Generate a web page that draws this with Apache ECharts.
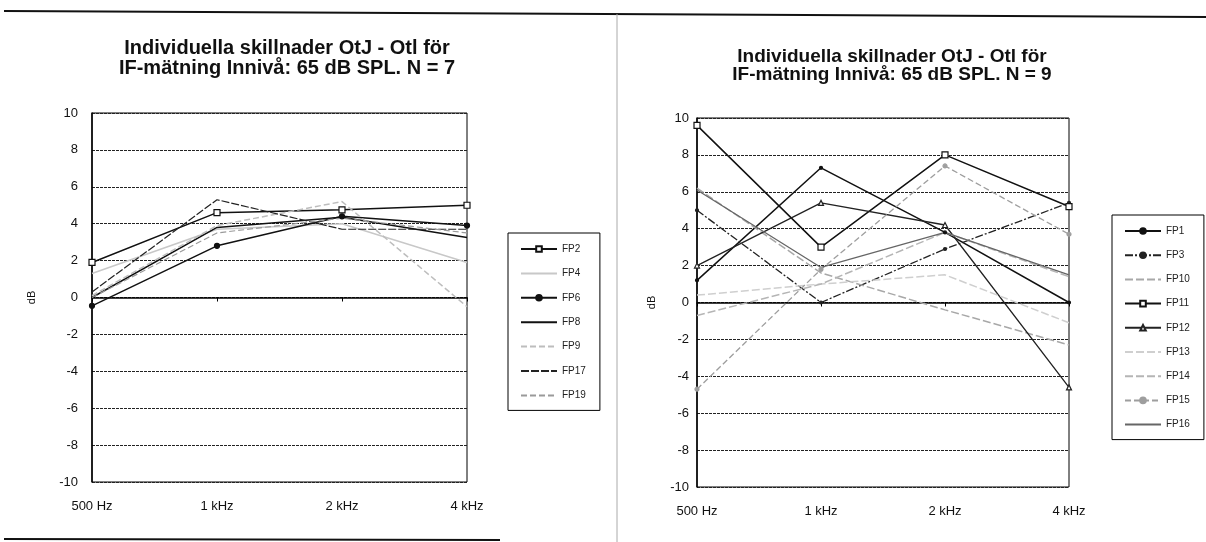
<!DOCTYPE html>
<html>
<head>
<meta charset="utf-8">
<script src="https://cdn.jsdelivr.net/npm/echarts@6/dist/echarts.min.js"></script>
<style>
  html, body { margin: 0; padding: 0; background: #fff; }
  #chart { width: 1206px; height: 542px; }
</style>
</head>
<body>
<div id="chart"></div>
<script>
// frequency categories shared by both panels
const freqs = ["500 Hz", "1 kHz", "2 kHz", "4 kHz"];
const yTicks = [-10, 10, 2]; // min, max, step

// left panel, N = 7
const leftNames = ["FP2", "FP4", "FP6", "FP8", "FP9", "FP17", "FP19"];
const fp2 = [1.9, 4.6, 4.75, 5.0];
const fp4 = [1.3, 3.7, 4.0, 1.9];
const fp6 = [-0.45, 2.8, 4.4, 3.9];
const fp8 = [0.0, 3.8, 4.35, 3.25];
const fp9 = [0.1, 3.9, 5.2, -0.5];
const fp17 = [0.3, 5.3, 3.7, 3.7];
const fp19 = [0.0, 3.5, 4.3, 3.5];

// right panel, N = 9
const rightNames = ["FP1", "FP3", "FP10", "FP11", "FP12", "FP13", "FP14", "FP15", "FP16"];
const fp1 = [1.2, 7.3, 3.8, 0.0];
const fp3 = [5.0, 0.0, 2.9, 5.4];
const fp10 = [6.2, 1.6, -0.4, -2.3];
const fp11 = [9.6, 3.0, 8.0, 5.2];
const fp12 = [2.0, 5.4, 4.2, -4.6];
const fp13 = [0.4, 1.0, 1.5, -1.1];
const fp14 = [-0.7, 1.0, 3.8, 1.4];
const fp15 = [-4.7, 1.8, 7.4, 3.7];
const fp16 = [6.1, 1.9, 3.8, 1.5];

const titleText = "Individuella skillnader OtJ - Otl för\nIF-mätning Innivå: 65 dB SPL. N = ";
const font = "Liberation Sans, Arial, sans-serif";

// series names drawn without markers (legend shows just the line)
const plain = ["FP4", "FP8", "FP9", "FP17", "FP19", "FP10", "FP13", "FP14", "FP16"];

function line(name, data, idx, color, width, type, symbol, size, filled) {
  return {
    name: name,
    type: "line",
    xAxisIndex: idx,
    yAxisIndex: idx,
    data: data,
    symbol: symbol || "none",
    symbolSize: size || 5,
    showSymbol: !!symbol,
    lineStyle: { color: color, width: width, type: type || "solid" },
    itemStyle: { color: filled ? color : "#fff", borderColor: color, borderWidth: 1.2 },
    emphasis: { disabled: true },
    animation: false
  };
}

function xAxis(idx) {
  return {
    type: "category",
    gridIndex: idx,
    data: freqs,
    boundaryGap: false,
    axisLine: { lineStyle: { color: "#000", width: 1.5 } },
    axisTick: { show: true, length: 4, lineStyle: { color: "#000" } },
    axisLabel: { color: "#111", fontSize: 13, fontFamily: font, margin: 18 },
    splitLine: { show: false }
  };
}

function yAxis(idx, gap, labelMargin) {
  return {
    type: "value",
    gridIndex: idx,
    min: yTicks[0],
    max: yTicks[1],
    interval: yTicks[2],
    name: "dB",
    nameLocation: "middle",
    nameRotate: 90,
    nameGap: gap,
    nameTextStyle: { color: "#111", fontSize: 11, fontFamily: font },
    axisLine: { show: true, lineStyle: { color: "#000", width: 1.5 } },
    axisTick: { show: false },
    axisLabel: { color: "#111", fontSize: 13, fontFamily: font, margin: labelMargin },
    splitLine: { show: true, lineStyle: { color: "#222", width: 1.2, type: [3, 1] } }
  };
}

function legend(names, left, top, gap) {
  return {
    data: names.map(n => plain.indexOf(n) >= 0 ? { name: n, itemStyle: { opacity: 0 } } : { name: n }),
    orient: "vertical",
    left: left,
    top: top,
    padding: [11, 14, 10, 12],
    itemWidth: 36,
    itemHeight: 7,
    itemGap: gap,
    borderColor: "#000",
    borderWidth: 1,
    selectedMode: false,
    textStyle: { color: "#222", fontSize: 10, fontFamily: font }
  };
}

const chart = echarts.init(document.getElementById("chart"));
chart.setOption({
  backgroundColor: "#fff",
  animation: false,
  title: [
    {
      text: titleText + "7", left: 282, top: 33, textAlign: "center",
      textStyle: { fontSize: 20, fontWeight: "bold", color: "#111", fontFamily: font, lineHeight: 20 }
    },
    {
      text: titleText + "9", left: 887, top: 43, textAlign: "center",
      textStyle: { fontSize: 19, fontWeight: "bold", color: "#111", fontFamily: font, lineHeight: 18 }
    }
  ],
  legend: [
    legend(leftNames, 508, 233, 14.4),
    legend(rightNames, 1112, 215, 14.2)
  ],
  grid: [
    { left: 92, right: 739, top: 113, bottom: 60, show: true, borderColor: "#000", borderWidth: 1 },
    { left: 697, right: 137, top: 118, bottom: 55, show: true, borderColor: "#000", borderWidth: 1 }
  ],
  xAxis: [xAxis(0), xAxis(1)],
  yAxis: [yAxis(0, 55, 14), yAxis(1, 40, 8)],
  graphic: [
    { type: "line", shape: { x1: 4, y1: 11, x2: 1206, y2: 17 }, style: { stroke: "#111", lineWidth: 2 } },
    { type: "line", shape: { x1: 617, y1: 14, x2: 617, y2: 542 }, style: { stroke: "#aaa", lineWidth: 1 } },
    { type: "line", shape: { x1: 4, y1: 539, x2: 500, y2: 540 }, style: { stroke: "#111", lineWidth: 2 } }
  ],
  series: [
    line("FP2", fp2, 0, "#111", 1.5, "solid", "rect", 6, false),
    line("FP4", fp4, 0, "#c8c8c8", 1.5),
    line("FP6", fp6, 0, "#111", 1.5, "solid", "circle", 5, true),
    line("FP8", fp8, 0, "#111", 1.5),
    line("FP9", fp9, 0, "#bdbdbd", 1.5, [6, 3]),
    line("FP17", fp17, 0, "#222", 1.2, [8, 2]),
    line("FP19", fp19, 0, "#9a9a9a", 1.2, [6, 3]),

    line("FP1", fp1, 1, "#111", 1.5, "solid", "circle", 3, true),
    line("FP3", fp3, 1, "#222", 1.3, [8, 2, 2, 2], "circle", 3, true),
    line("FP10", fp10, 1, "#a8a8a8", 1.5, [8, 3]),
    line("FP11", fp11, 1, "#111", 1.5, "solid", "rect", 6, false),
    line("FP12", fp12, 1, "#222", 1.3, "solid", "triangle", 5, false),
    line("FP13", fp13, 1, "#cfcfcf", 1.5, [8, 3]),
    line("FP14", fp14, 1, "#b5b5b5", 1.5, [8, 3]),
    line("FP15", fp15, 1, "#9e9e9e", 1.3, [6, 3], "circle", 4, true),
    line("FP16", fp16, 1, "#666", 1.3)
  ]
});
</script>
</body>
</html>
